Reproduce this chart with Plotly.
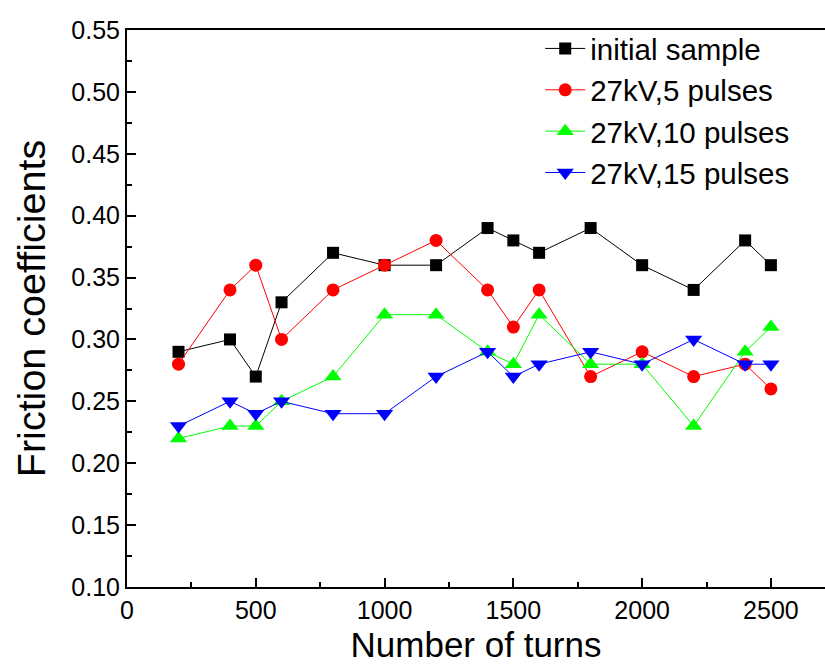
import plotly.graph_objects as go

turns = [200, 400, 500, 600, 800, 1000, 1200, 1400, 1500, 1600, 1800, 2000, 2200, 2400, 2500]
initial = [0.29, 0.30, 0.27, 0.33, 0.37, 0.36, 0.36, 0.39, 0.38, 0.37, 0.39, 0.36, 0.34, 0.38, 0.36]
kv27_5 = [0.28, 0.34, 0.36, 0.30, 0.34, 0.36, 0.38, 0.34, 0.31, 0.34, 0.27, 0.29, 0.27, 0.28, 0.26]
kv27_10 = [0.22, 0.23, 0.23, 0.25, 0.27, 0.32, 0.32, 0.29, 0.28, 0.32, 0.28, 0.28, 0.23, 0.29, 0.31]
kv27_15 = [0.23, 0.25, 0.24, 0.25, 0.24, 0.24, 0.27, 0.29, 0.27, 0.28, 0.29, 0.28, 0.30, 0.28, 0.28]

series = [
    ("initial sample", initial, "black", "square", 12),
    ("27kV,5 pulses", kv27_5, "red", "circle", 13),
    ("27kV,10 pulses", kv27_10, "#00ff00", "triangle-up", 15),
    ("27kV,15 pulses", kv27_15, "blue", "triangle-down", 15),
]

fig = go.Figure()
for name, vals, col, sym, size in series:
    fig.add_trace(go.Scatter(
        x=turns, y=vals, name=name, mode="lines+markers",
        line=dict(color=col, width=1),
        marker=dict(color=col, symbol=sym, size=size),
    ))

font = "Liberation Sans, Arial, sans-serif"
fig.update_layout(
    width=825, height=664,
    margin=dict(l=127, r=0, t=30, b=77),
    paper_bgcolor="white", plot_bgcolor="white",
    font=dict(family=font, color="black"),
    showlegend=True,
    legend=dict(
        x=0.592, y=1.013, xanchor="left", yanchor="top",
        font=dict(family=font, size=29.5),
        bgcolor="rgba(0,0,0,0)", tracegroupgap=0, itemwidth=40,
    ),
)
fig.update_xaxes(
    range=[0, 2710], tickvals=[0, 500, 1000, 1500, 2000, 2500],
    ticks="inside", ticklen=9, tickwidth=1.5, tickcolor="black",
    minor=dict(ticks="inside", ticklen=5, dtick=250, tickcolor="black"),
    showline=True, linecolor="black", linewidth=2, mirror=True,
    showgrid=False, zeroline=False,
    tickfont=dict(size=25),
    title=dict(text="Number of turns", font=dict(family=font, size=35), standoff=14),
)
fig.update_yaxes(
    range=[0.10, 0.55], dtick=0.05, tick0=0.10, tickformat=".2f",
    ticks="inside", ticklen=9, tickwidth=1.5, tickcolor="black",
    minor=dict(ticks="inside", ticklen=5, dtick=0.025, tickcolor="black"),
    showline=True, linecolor="black", linewidth=2, mirror=False,
    showgrid=False, zeroline=False,
    tickfont=dict(size=25),
    title=dict(text="Friction coefficients", font=dict(family=font, size=39.5), standoff=14),
)

# drop the default page margin so the figure fills the window exactly
fig.write_html(
    "out.html",
    config={"displayModeBar": False},
    post_script="document.body.style.margin='0';document.body.style.overflow='hidden';",
)
